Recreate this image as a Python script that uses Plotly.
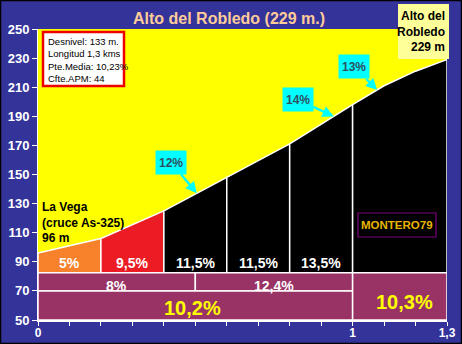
import numpy as np
import plotly.graph_objects as go

# Climb profile: distance (km) and altitude (m)
dist_km = [0, 0.2, 0.4, 0.6, 0.8, 1.0, 1.1, 1.2, 1.3]
elev_m = [96, 106, 125, 148, 171, 198, 211, 221, 229]

# Sections with their average grade
sec_start = [0, 0.2, 0.4, 0.6, 0.8, 1.0]
sec_end = [0.2, 0.4, 0.6, 0.8, 1.0, 1.3]
sec_grade = ["5%", "9,5%", "11,5%", "11,5%", "13,5%", ""]
sec_color = ["#F7822B", "#EC1C24", "black", "black", "black", "black"]

# Summary table: half-climb grades and block grades
half_start = [0, 0.5]
half_end = [0.5, 1.0]
half_grade = ["8%", "12,4%"]
block_start = [0, 1.0]
block_end = [1.0, 1.3]
block_grade = ["10,2%", "10,3%"]

# Maximum-grade call-outs
callout_km = [0.505, 0.94, 1.078]
callout_text = ["12%", "14%", "13%"]
callout_offset = [(-26, -31), (-36, -17), (-23, -23)]

info_lines = ["Desnivel: 133 m.", "Longitud 1,3 kms", "Pte.Media: 10,23%", "Cfte.APM: 44"]

BLUE = "#333399"
ARIAL = "Liberation Sans, Arial, sans-serif"
NARROW = "Liberation Sans Narrow, Arial Narrow, Liberation Sans, sans-serif"

BASE = 82.5      # bottom of the section fills / top of the table
MID = 70         # split between the two table rows
FLOOR = 50

W, H = 462, 344
L, R, T, B = 38, 15, 29, 24
PW, PH = W - L - R, H - T - B


def px(x):
    return (x - L) / PW


def py(y):
    return (H - B - y) / PH


fig = go.Figure()

# Section fills under the profile
for s, e, c in zip(sec_start, sec_end, sec_color):
    xs = [s] + [d for d in dist_km if s < d < e] + [e]
    ys = list(np.interp(xs, dist_km, elev_m))
    fig.add_trace(go.Scatter(
        x=[s] + xs + [e, s], y=[BASE] + ys + [BASE, BASE],
        mode="lines", fill="toself", fillcolor=c,
        line=dict(color="white", width=1.5), hoverinfo="skip", showlegend=False))

# Summary table cells
def cell(x0, x1, y0, y1):
    fig.add_trace(go.Scatter(
        x=[x0, x1, x1, x0, x0], y=[y0, y0, y1, y1, y0],
        mode="lines", fill="toself", fillcolor="#993366",
        line=dict(color="white", width=1.5), hoverinfo="skip", showlegend=False))

for s, e in zip(half_start, half_end):
    cell(s, e, MID, BASE)
cell(block_start[0], block_end[0], FLOOR, MID)
cell(block_start[1], block_end[1], FLOOR, BASE)

ann = []

# Section grade labels
for s, e, g in zip(sec_start, sec_end, sec_grade):
    if g:
        ann.append(dict(x=(s + e) / 2, y=89.5, text="<b>%s</b>" % g, showarrow=False,
                        font=dict(family=ARIAL, size=14, color="white")))

for s, e, g in zip(half_start, half_end, half_grade):
    ann.append(dict(x=(s + e) / 2, y=73.5, text="<b>%s</b>" % g, showarrow=False,
                    font=dict(family=ARIAL, size=14, color="white")))

ann.append(dict(x=0.49, y=58.3, text="<b>%s</b>" % block_grade[0], showarrow=False,
                font=dict(family=ARIAL, size=20, color="#FFFF00")))
ann.append(dict(x=1.165, y=62.4, text="<b>%s</b>" % block_grade[1], showarrow=False,
                font=dict(family=ARIAL, size=20, color="#FFFF00")))

# Call-outs pointing at the profile
for k, t, (ax, ay) in zip(callout_km, callout_text, callout_offset):
    ann.append(dict(x=k, y=float(np.interp(k, dist_km, elev_m)), text="<b>%s</b>" % t,
                    showarrow=True, ax=ax, ay=ay, arrowcolor="#00FFFF", arrowwidth=2.5,
                    arrowhead=2, arrowsize=0.9, bgcolor="#00FFFF", borderpad=3,
                    height=17,
                    font=dict(family=ARIAL, size=12, color="#2F4F5F")))

# Start label
ann.append(dict(x=0.007, y=117, xanchor="left", yanchor="middle", align="left",
                text="<b>La Vega<br>(cruce As-325)<br>%d m</b>" % elev_m[0], showarrow=False,
                font=dict(family=ARIAL, size=12, color="black")))

# Info box text
ann.append(dict(xref="paper", yref="paper", x=px(46), y=py(34), xanchor="left", yanchor="top",
                align="left", text="<br>".join(info_lines), showarrow=False,
                font=dict(family=NARROW, size=9.5, color="black")))

# Summit label
ann.append(dict(xref="paper", yref="paper", x=px(447.5), y=py(31.5), xanchor="right",
                yanchor="middle", align="right",
                text="<b>Alto del<br>Robledo<br>%d m</b>" % elev_m[-1], showarrow=False,
                font=dict(family=ARIAL, size=12, color="black")))

# Watermark
ann.append(dict(xref="paper", yref="paper", x=px(397), y=py(225), xanchor="center", yanchor="middle",
                text="<b>MONTERO79</b>", showarrow=False,
                font=dict(family=ARIAL, size=11.5, color="#E8B400")))

# Title
ann.append(dict(xref="paper", yref="paper", x=px(229), y=py(19), xanchor="center", yanchor="middle",
                text="<b>Alto del Robledo (229 m.)</b>", showarrow=False,
                font=dict(family=ARIAL, size=16, color="#FFCC99")))

shapes = [
    dict(type="rect", xref="paper", yref="paper", x0=px(43), x1=px(124), y0=py(86), y1=py(32),
         fillcolor="white", line=dict(color="#EE0000", width=2.5), layer="above"),
    dict(type="rect", xref="paper", yref="paper", x0=px(398), x1=px(449), y0=py(59), y1=py(4),
         fillcolor="#FFFF99", line=dict(width=0), layer="above"),
    dict(type="rect", xref="paper", yref="paper", x0=px(358), x1=px(436), y0=py(237), y1=py(213),
         fillcolor="black", line=dict(color="#800080", width=1.2), layer="above"),
    # outer frame
    dict(type="rect", xref="paper", yref="paper", x0=px(0.5), x1=px(461.5), y0=py(343.5), y1=py(0.5),
         fillcolor="rgba(0,0,0,0)", line=dict(color="black", width=1.5), layer="above"),
]

xt = [round(0.1 * i, 1) for i in range(14)]
xl = ["0" if v == 0 else "1" if v == 1.0 else "1,3" if v == 1.3 else "" for v in xt]

fig.update_layout(
    width=W, height=H, margin=dict(l=L, r=R, t=T, b=B),
    paper_bgcolor=BLUE, plot_bgcolor="#FFFF00",
    showlegend=False, annotations=ann, shapes=shapes,
    xaxis=dict(range=[0, 1.3], tickvals=xt, ticktext=xl, ticks="outside", ticklen=4,
               tickcolor="white", tickwidth=1, showgrid=False, zeroline=False, automargin=False,
               showline=True, linecolor="white", linewidth=2, ticklabelstandoff=-3,
               tickfont=dict(family=ARIAL, size=12, color="white", weight="bold")),
    yaxis=dict(range=[50, 250], tickvals=list(range(50, 251, 20)), ticks="outside", ticklen=5,
               tickcolor="white", tickwidth=1, showgrid=False, zeroline=False, automargin=False,
               showline=True, linecolor="white", linewidth=1,
               tickfont=dict(family=ARIAL, size=13, color="white", weight="bold")),
)

fig.write_html("out.html")
